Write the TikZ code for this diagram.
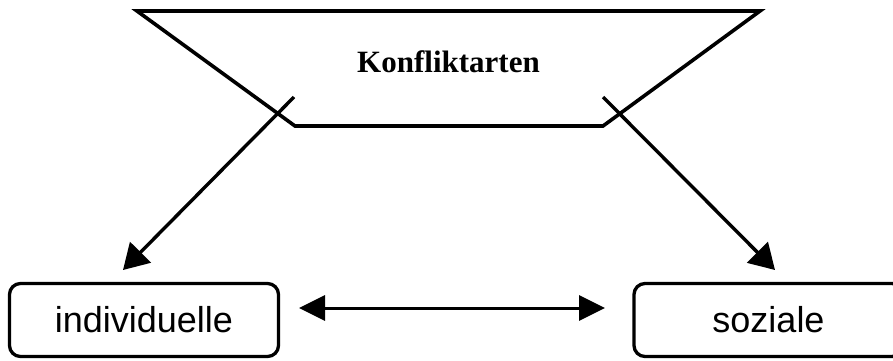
\documentclass[tikz,border=0pt]{standalone}
\usepackage{fontspec}
\setmainfont{Liberation Serif}
\newfontfamily\boxfont{Liberation Sans}
\usetikzlibrary{arrows.meta}
\begin{document}
\begin{tikzpicture}[x=1pt,y=-1pt,
  trap/.style={line width=3.6pt,line join=miter},
  box/.style={draw,line width=3.3pt,rounded corners=11pt,minimum width=269pt,minimum height=73pt,inner sep=0pt,font=\boxfont\fontsize{36}{40}\selectfont},
  diag/.style={line width=3.4pt,-{Triangle[length=25pt,width=29pt]}},
  dbl/.style={line width=3pt,{Triangle[length=26pt,width=25pt]}-{Triangle[length=26pt,width=25pt]}},
  title/.style={font=\bfseries\fontsize{31}{36}\selectfont,anchor=base,inner sep=0pt}]
\useasboundingbox (0,0) rectangle (893,360);
\coordinate (tl) at (137,11);
\coordinate (tr) at (760,11);
\coordinate (br) at (603,126);
\coordinate (bl) at (295,126);
\draw[trap] (tl) -- (tr) -- (br) -- (bl) -- cycle;
\node[title] (kt) at (448.5,72) {Konfliktarten};
\node[box] (ind) at (144,320) {individuelle};
\node[box] (soz) at (768.5,320) {soziale};
\coordinate (ls) at (294,97);
\coordinate (le) at (123,270);
\coordinate (rs) at (603,97);
\coordinate (re) at (775,270);
\draw[diag] (ls) -- (le);
\draw[diag] (rs) -- (re);
\coordinate (da) at (299,308);
\coordinate (db) at (605,308);
\draw[dbl] (da) -- (db);
\end{tikzpicture}
\end{document}
